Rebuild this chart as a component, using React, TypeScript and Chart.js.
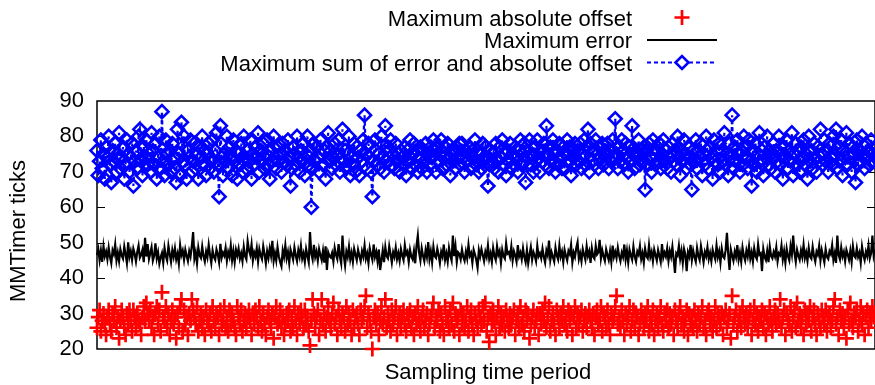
import { useEffect, useRef } from "react";
import { Chart, registerables } from "chart.js";

Chart.register(...registerables);

const seriesLabels = [
  "Maximum absolute offset",
  "Maximum error",
  "Maximum sum of error and absolute offset",
];
const xTitle = "Sampling time period";
const yTitle = "MMTimer ticks";
const yMin = 20;
const yMax = 90;
const yStep = 10;

const absOffset = [
  26, 29, 31, 25, 28, 30, 27, 24, 29, 31, 27, 25, 30, 28, 32, 26, 29, 23, 28, 31,
  29, 26, 24, 30, 27, 31, 28, 25, 31, 29, 26, 30, 28, 27, 24, 29, 32, 28, 33, 30,
  28, 31, 26, 29, 24, 30, 32, 27, 31, 25, 36, 29, 28, 32, 26, 30, 24, 28, 31, 27,
  29, 23, 30, 26, 32, 34, 25, 31, 27, 29, 24, 30, 28, 34, 31, 29, 27, 32, 25, 28,
  30, 26, 29, 24, 31, 28, 27, 30, 25, 32, 28, 26, 30, 29, 24, 31, 27, 28, 32, 26,
  29, 25, 31, 27, 30, 28, 26, 24, 32, 29, 27, 31, 25, 28, 30, 26, 29, 31, 28, 24,
  30, 27, 31, 29, 26, 32, 28, 25, 30, 27, 24, 29, 31, 28, 26, 30, 23, 29, 32, 27,
  28, 31, 26, 29, 24, 27, 30, 28, 31, 25, 29, 26, 32, 28, 24, 30, 27, 31, 29, 26,
  31, 27, 29, 25, 21, 28, 34, 30, 26, 29, 31, 24, 28, 34, 27, 30, 25, 29, 32, 28,
  26, 30, 33, 27, 29, 24, 31, 28, 26, 30, 29, 25, 32, 27, 30, 28, 24, 31, 26, 29,
  30, 27, 24, 31, 28, 29, 32, 35, 26, 30, 28, 25, 20, 29, 31, 27, 30, 24, 28, 32,
  27, 29, 34, 26, 30, 28, 25, 31, 27, 29, 32, 24, 28, 30, 26, 29, 31, 27, 25, 30,
  28, 31, 26, 29, 24, 30, 27, 32, 28, 25, 29, 31, 26, 28, 30, 24, 27, 29, 31, 33,
  26, 29, 28, 31, 25, 30, 27, 24, 32, 28, 29, 26, 31, 27, 33, 25, 30, 28, 29, 24,
  31, 27, 30, 26, 28, 32, 25, 29, 31, 27, 24, 30, 28, 26, 31, 29, 27, 32, 28, 33,
  25, 29, 22, 30, 27, 31, 28, 24, 29, 32, 26, 30, 27, 29, 25, 31, 28, 26, 30, 27,
  29, 31, 24, 28, 30, 26, 32, 27, 29, 25, 31, 28, 30, 23, 27, 29, 31, 26, 28, 30,
  24, 30, 27, 31, 28, 33, 26, 29, 32, 25, 28, 30, 27, 24, 31, 29, 26, 30, 28, 32,
  27, 29, 25, 31, 28, 30, 24, 29, 32, 26, 30, 27, 29, 31, 25, 28, 30, 26, 29, 31,
  28, 26, 30, 24, 29, 31, 27, 28, 32, 25, 30, 29, 26, 31, 27, 24, 30, 28, 29, 32,
  35, 27, 29, 26, 31, 28, 24, 30, 27, 29, 32, 25, 28, 31, 26, 30, 29, 24, 27, 31,
  29, 26, 30, 28, 32, 25, 29, 27, 31, 24, 28, 30, 26, 29, 32, 27, 25, 30, 28, 31,
  26, 30, 27, 29, 24, 31, 28, 26, 30, 32, 27, 29, 25, 28, 31, 24, 30, 27, 29, 26,
  31, 28, 25, 30, 27, 29, 32, 26, 28, 24, 30, 31, 27, 29, 25, 28, 32, 26, 30, 29,
  27, 30, 24, 29, 31, 26, 28, 30, 23, 35, 27, 29, 31, 25, 28, 30, 26, 32, 29, 27,
  30, 26, 29, 31, 24, 28, 32, 27, 30, 25, 29, 28, 31, 26, 30, 24, 29, 27, 32, 28,
  25, 29, 31, 27, 30, 28, 34, 26, 29, 31, 24, 30, 28, 27, 32, 25, 29, 31, 26, 33,
  28, 30, 26, 29, 24, 31, 27, 30, 28, 32, 25, 29, 31, 27, 24, 30, 28, 26, 31, 29,
  27, 31, 25, 29, 30, 26, 28, 32, 34, 27, 29, 24, 31, 28, 30, 26, 29, 23, 31, 27,
  33, 28, 26, 30, 29, 31, 25, 28, 32, 27, 30, 24, 29, 31, 26, 30, 28, 32, 29, 30,
];

const maxError = [
  46.5, 48.2, 45.1, 47.8, 44.6, 49.0, 46.2, 47.5, 45.3, 48.6, 46.0, 44.2, 47.9, 46.8, 49.5, 45.0, 47.2, 44.8, 48.1, 46.4,
  45.5, 48.9, 46.7, 44.3, 50.1, 46.0, 47.6, 45.2, 48.3, 46.9, 44.7, 47.4, 49.2, 45.8, 46.6, 48.0, 44.5, 51.4, 46.1, 49.6,
  45.4, 47.0, 48.7, 44.9, 46.3, 49.8, 45.6, 47.3, 44.1, 45.9, 47.1, 44.4, 48.5, 46.2, 45.0, 49.1, 46.8, 44.6, 47.9, 46.0,
  48.4, 45.3, 46.9, 44.1, 49.3, 46.5, 47.8, 45.2, 48.0, 46.3, 44.8, 47.6, 46.1, 49.0, 53.0, 45.5, 47.3, 44.2, 48.6, 46.4,
  45.7, 48.9, 46.2, 44.7, 47.5, 45.9, 49.4, 46.6, 44.3, 47.8, 46.0, 45.2, 48.1, 46.7, 44.5, 49.7, 45.8, 47.2, 46.3, 48.5,
  44.9, 47.4, 46.0, 49.2, 45.1, 47.7, 44.6, 48.0, 46.4, 48.3, 45.5, 47.0, 44.8, 48.8, 46.2, 45.3, 50.4, 47.9, 46.6, 49.5,
  45.0, 47.3, 46.1, 48.4, 44.7, 48.2, 46.5, 45.4, 49.0, 46.8, 44.2, 47.6, 45.7, 48.4, 46.3, 50.5, 44.9, 47.1, 45.0, 48.7,
  46.2, 44.6, 43.4, 47.8, 46.0, 49.3, 45.6, 47.4, 44.3, 48.1, 46.7, 45.2, 48.6, 46.4, 44.8, 47.9, 46.1, 49.1, 45.5, 47.0,
  44.6, 48.2, 46.3, 44.5, 53.0, 46.9, 45.3, 49.4, 46.0, 47.5, 44.9, 48.2, 46.5, 45.1, 47.7, 44.4, 49.0, 42.3, 47.3, 46.2,
  45.8, 47.1, 44.7, 48.5, 46.6, 45.4, 49.6, 46.1, 44.2, 52.0, 46.4, 43.6, 47.5, 46.0, 48.9, 45.3, 47.2, 44.6, 48.3, 46.7,
  45.1, 48.0, 46.3, 44.8, 47.6, 46.1, 49.2, 45.5, 47.0, 44.3, 48.4, 46.6, 45.2, 49.5, 46.0, 47.4, 44.7, 48.1, 42.3, 45.0,
  47.8, 44.5, 48.7, 46.2, 45.6, 49.0, 46.8, 44.4, 47.3, 46.0, 48.6, 45.4, 47.1, 44.9, 48.2, 46.4, 45.1, 49.3, 46.7, 47.5,
  44.6, 48.0, 46.1, 45.3, 47.7, 44.2, 49.1, 52.0, 47.2, 45.0, 48.4, 46.3, 44.8, 47.9, 46.0, 50.2, 45.4, 47.6, 44.5, 48.8,
  46.2, 45.7, 48.3, 46.6, 44.3, 47.4, 46.1, 49.5, 45.2, 47.0, 44.7, 48.5, 46.4, 45.0, 52.0, 46.2, 49.0, 44.6, 47.3, 46.8,
  45.3, 48.1, 46.0, 44.9, 47.5, 45.6, 49.4, 46.3, 47.1, 44.4, 48.0, 46.7, 45.2, 43.0, 47.9, 46.1, 48.2, 46.5, 44.8, 47.4,
  46.0, 49.2, 45.4, 47.0, 44.6, 48.5, 46.3, 45.1, 49.0, 46.6, 47.7, 44.3, 48.0, 46.2, 45.5, 49.8, 46.9, 47.3, 46.0, 48.9,
  45.0, 47.6, 46.4, 44.7, 49.3, 46.1, 47.2, 45.3, 48.4, 46.0, 44.5, 47.9, 44.2, 46.6, 48.7, 45.2, 47.4, 46.3, 44.8, 49.1,
  46.2, 47.0, 45.6, 48.3, 46.0, 44.4, 47.8, 46.5, 50.6, 45.1, 47.3, 46.0, 44.7, 48.6, 46.4, 45.3, 49.2, 46.1, 47.5, 44.6,
  48.0, 46.3, 45.0, 47.7, 46.8, 49.4, 44.5, 47.2, 46.0, 48.5, 50.1, 45.4, 47.0, 44.8, 48.2, 46.6, 45.2, 49.0, 46.3, 47.6,
  44.3, 48.4, 46.1, 45.5, 49.1, 46.7, 47.3, 50.8, 45.6, 47.9, 46.2, 44.9, 48.1, 46.5, 45.1, 47.6, 44.6, 49.2, 46.0, 47.4,
  45.7, 48.6, 46.3, 44.8, 47.2, 46.0, 49.5, 45.3, 47.8, 44.5, 48.0, 46.4, 45.2, 48.9, 46.1, 44.7, 47.5, 46.6, 49.0, 45.4,
  47.1, 44.4, 48.3, 46.2, 45.6, 49.3, 46.0, 47.4, 44.8, 48.1, 46.5, 45.0, 47.9, 46.3, 44.6, 49.6, 45.8, 47.2, 46.1, 48.4,
  44.9, 47.6, 46.0, 48.8, 45.3, 41.5, 47.0, 46.4, 49.1, 45.5, 47.7, 44.3, 48.2, 46.6, 42.0, 47.3, 46.1, 49.4, 45.2, 47.8,
  46.0, 44.7, 48.5, 46.3, 45.1, 49.0, 46.8, 44.5, 47.4, 46.2, 48.7, 45.4, 47.1, 44.8, 48.0, 46.5, 45.3, 49.2, 46.0, 47.6,
  44.4, 48.3, 46.1, 45.6, 47.9, 52.8, 46.7, 42.3, 48.1, 46.4, 44.9, 47.5, 46.0, 49.3, 45.2, 47.2, 44.6, 48.6, 46.3, 45.0,
  47.8, 46.1, 49.0, 45.5, 47.3, 44.7, 48.4, 46.2, 45.4, 49.5, 46.6, 47.0, 42.0, 48.2, 46.0, 45.1, 47.7, 44.5, 48.9, 46.3,
  45.6, 47.4, 46.1, 48.7, 44.8, 47.0, 46.5, 49.2, 45.3, 47.6, 44.4, 48.3, 46.2, 45.0, 49.0, 46.7, 52.0, 47.1, 44.6, 48.0,
  46.4, 45.2, 47.8, 46.0, 49.4, 45.7, 47.3, 44.9, 48.5, 46.1, 45.5, 48.8, 46.3, 44.7, 47.5, 46.6, 49.1, 45.0, 47.9, 46.2,
  44.5, 48.2, 46.0, 45.4, 47.6, 46.8, 49.3, 45.1, 47.0, 44.3, 52.0, 46.5, 45.3, 48.6, 46.1, 47.4, 44.8, 48.0, 46.7, 45.2,
  47.7, 44.6, 49.0, 46.3, 45.8, 48.4, 46.0, 47.2, 44.4, 48.9, 46.5, 45.1, 47.5, 46.2, 49.2, 45.6, 47.0, 52.0, 46.4, 48.1,
];

const maxSum = [
  76, 69, 73, 79, 71, 75, 68, 77, 74, 80, 72, 67, 76, 73, 78, 70, 75, 81, 71, 74,
  77, 68, 72, 79, 75, 70, 74, 78, 66, 73, 76, 71, 80, 82, 73, 69, 77, 74, 79, 72,
  75, 70, 81, 76, 72, 78, 68, 74, 80, 71, 87, 73, 69, 79, 75, 72, 76, 70, 78, 74,
  71, 67, 82, 75, 69, 84, 73, 80, 72, 68, 76, 74, 79, 70, 73, 78, 71, 75, 68, 77,
  74, 80, 72, 76, 69, 75, 78, 71, 73, 79, 70, 76, 81, 72, 63, 83, 74, 69, 75, 73,
  80, 71, 77, 74, 69, 79, 73, 76, 68, 75, 72, 78, 70, 80, 74, 71, 76, 73, 79, 68,
  75, 72, 77, 74, 81, 70, 76, 73, 78, 71, 75, 79, 72, 68, 76, 73, 80, 74, 71, 77,
  73, 75, 70, 78, 73, 76, 72, 79, 74, 66, 71, 77, 75, 72, 80, 74, 70, 76, 73, 78,
  69, 75, 80, 72, 76, 60, 71, 78, 73, 77, 74, 70, 79, 75, 72, 76, 68, 77, 81, 73,
  76, 71, 74, 78, 72, 75, 79, 70, 74, 82, 73, 76, 71, 75, 80, 69, 74, 72, 78, 70,
  77, 74, 69, 76, 73, 79, 86, 75, 71, 78, 74, 70, 63, 73, 79, 76, 72, 75, 71, 80,
  74, 70, 83, 73, 77, 76, 79, 72, 75, 71, 78, 73, 75, 70, 76, 74, 72, 77, 69, 76,
  73, 79, 71, 75, 78, 72, 76, 70, 74, 77, 71, 76, 73, 78, 70, 75, 72, 77, 74, 79,
  76, 70, 77, 73, 75, 79, 71, 74, 77, 72, 78, 74, 69, 76, 73, 75, 71, 77, 74, 78,
  72, 78, 74, 70, 76, 73, 75, 77, 71, 76, 74, 79, 72, 76, 70, 75, 71, 78, 73, 77,
  74, 66, 72, 76, 73, 75, 71, 78, 73, 70, 77, 74, 79, 72, 75, 69, 76, 73, 78, 71,
  75, 72, 77, 74, 70, 76, 79, 72, 73, 78, 67, 76, 74, 79, 72, 75, 70, 77, 73, 79,
  74, 70, 76, 73, 78, 72, 83, 75, 71, 77, 73, 79, 75, 70, 76, 72, 78, 74, 71, 77,
  71, 75, 79, 73, 77, 69, 76, 74, 78, 72, 76, 73, 78, 71, 75, 79, 72, 77, 82, 70,
  78, 73, 76, 72, 79, 75, 71, 77, 74, 78, 72, 76, 75, 78, 71, 76, 73, 79, 74, 85,
  75, 71, 77, 73, 79, 76, 72, 78, 74, 70, 77, 73, 83, 75, 71, 76, 74, 79, 72, 76,
  73, 77, 65, 76, 72, 78, 74, 70, 79, 75, 72, 76, 73, 78, 71, 75, 79, 73, 76, 71,
  77, 74, 70, 78, 73, 76, 72, 80, 74, 69, 76, 73, 79, 75, 71, 77, 74, 72, 65, 76,
  73, 79, 71, 76, 74, 78, 69, 75, 72, 80, 76, 71, 77, 74, 68, 79, 73, 76, 72, 78,
  70, 76, 73, 81, 72, 75, 69, 78, 74, 86, 71, 77, 73, 79, 75, 70, 76, 72, 80, 74,
  77, 71, 79, 73, 66, 76, 72, 78, 70, 75, 81, 73, 76, 69, 77, 74, 80, 72, 76, 71,
  74, 78, 70, 76, 73, 80, 72, 75, 68, 77, 74, 79, 71, 76, 73, 81, 69, 75, 78, 72,
  76, 70, 77, 74, 79, 72, 75, 68, 80, 73, 76, 71, 78, 74, 70, 77, 73, 82, 75, 72,
  79, 73, 76, 70, 78, 74, 72, 80, 75, 82, 71, 77, 73, 79, 69, 76, 74, 81, 72, 78,
  74, 70, 77, 75, 67, 79, 72, 76, 73, 80, 75, 71, 78, 74, 76, 72, 79, 75, 73, 77,
];

const sampleIndex = absOffset.map((_, i) => i);

const FONT = "'Liberation Sans', Arial, Helvetica, sans-serif";
const RED = "#ff0000";
const BLACK = "#000000";
const BLUE = "#0000ff";

const framePlugin = {
  id: "gnuplotFrame",
  beforeDatasetsDraw(chart: any) {
    const { ctx, chartArea: a, scales } = chart;
    const y = scales.y;
    ctx.save();
    ctx.strokeStyle = "#000";
    ctx.lineWidth = 1.5;
    ctx.strokeRect(a.left, a.top, a.right - a.left, a.bottom - a.top);
    ctx.lineWidth = 1.2;
    for (const t of y.ticks) {
      if (t.value === yMin || t.value === yMax) continue;
      const py = Math.round(y.getPixelForValue(t.value)) + 0.5;
      ctx.beginPath();
      ctx.moveTo(a.left, py);
      ctx.lineTo(a.left + 8, py);
      ctx.moveTo(a.right, py);
      ctx.lineTo(a.right - 8, py);
      ctx.stroke();
    }
    ctx.restore();
  },
  afterDraw(chart: any) {
    const { ctx, chartArea: a } = chart;
    ctx.save();
    ctx.fillStyle = "#000";
    ctx.font = `22px ${FONT}`;
    ctx.textAlign = "center";
    ctx.textBaseline = "alphabetic";
    ctx.fillText(xTitle, (a.left + a.right) / 2 + 2, 379);
    ctx.save();
    ctx.translate(25, 231);
    ctx.rotate(-Math.PI / 2);
    ctx.fillText(yTitle, 0, 0);
    ctx.restore();

    const textRight = 632;
    const sx0 = 647;
    const sx1 = 717;
    const sxc = (sx0 + sx1) / 2;
    const baselines = [25.5, 48, 70.5];
    const datasets = chart.data.datasets;
    ctx.textAlign = "right";
    datasets.forEach((ds: any, i: number) => {
      const bl = baselines[i];
      const cy = bl - 8;
      ctx.fillStyle = "#000";
      ctx.fillText(ds.label, textRight, bl);
      ctx.strokeStyle = ds.borderColor;
      if (ds.showLine !== false) {
        ctx.lineWidth = 2;
        ctx.setLineDash(ds.borderDash || []);
        ctx.beginPath();
        ctx.moveTo(sx0, cy);
        ctx.lineTo(sx1, cy);
        ctx.stroke();
        ctx.setLineDash([]);
      }
      if (ds.pointRadius > 0) {
        const r = ds.pointRadius;
        ctx.lineWidth = ds.pointBorderWidth;
        ctx.beginPath();
        if (ds.pointStyle === "cross") {
          ctx.moveTo(sxc - r, cy);
          ctx.lineTo(sxc + r, cy);
          ctx.moveTo(sxc, cy - r);
          ctx.lineTo(sxc, cy + r);
        } else {
          ctx.fillStyle = "#fff";
          ctx.moveTo(sxc - r, cy);
          ctx.lineTo(sxc, cy - r);
          ctx.lineTo(sxc + r, cy);
          ctx.lineTo(sxc, cy + r);
          ctx.closePath();
          ctx.fill();
        }
        ctx.stroke();
      }
    });
    ctx.restore();
  },
};

export default function App() {
  const ref = useRef<HTMLCanvasElement>(null);
  useEffect(() => {
    const canvas = ref.current;
    if (!canvas) return;
    const chart = new Chart(canvas, {
      type: "line",
      data: {
        labels: sampleIndex,
        datasets: [
          {
            label: seriesLabels[0],
            data: absOffset,
            showLine: false,
            pointStyle: "cross",
            pointRadius: 7.5,
            pointBorderWidth: 2.7,
            borderColor: RED,
            backgroundColor: RED,
            pointBorderColor: RED,
            clip: false,
          } as any,
          {
            label: seriesLabels[1],
            data: maxError,
            borderColor: BLACK,
            borderWidth: 2.2,
            pointRadius: 0,
            tension: 0,
            clip: false,
          } as any,
          {
            label: seriesLabels[2],
            data: maxSum,
            borderColor: BLUE,
            borderWidth: 2.2,
            borderDash: [4, 3],
            pointStyle: "rectRot",
            pointRadius: 6.5,
            pointBorderWidth: 2.6,
            pointBorderColor: BLUE,
            pointBackgroundColor: "rgba(0,0,0,0)",
            tension: 0,
            clip: false,
          } as any,
        ],
      },
      options: {
        animation: false,
        responsive: false,
        devicePixelRatio: 1,
        events: [],
        layout: {
          autoPadding: false,
          padding: { left: 0, right: 2, top: 101, bottom: 36 },
        },
        scales: {
          x: {
            type: "linear",
            min: 0,
            max: sampleIndex.length - 1,
            display: false,
          },
          y: {
            min: yMin,
            max: yMax,
            afterFit: (s: any) => {
              s.width = 97;
            },
            ticks: {
              stepSize: yStep,
              padding: 13,
              color: "#000",
              font: { family: FONT, size: 22 },
            },
            grid: { display: false, drawTicks: false },
            border: { display: false },
          },
        },
        plugins: {
          legend: { display: false },
          tooltip: { enabled: false },
          title: { display: false },
        },
      } as any,
      plugins: [framePlugin],
    });
    return () => chart.destroy();
  }, []);
  return (
    <div
      style={{
        position: "fixed",
        left: 0,
        top: 0,
        width: 875,
        height: 385,
        overflow: "hidden",
        background: "#fff",
      }}
    >
      <canvas
        ref={ref}
        width={877}
        height={385}
        style={{ display: "block", width: 877, height: 385 }}
      />
    </div>
  );
}
